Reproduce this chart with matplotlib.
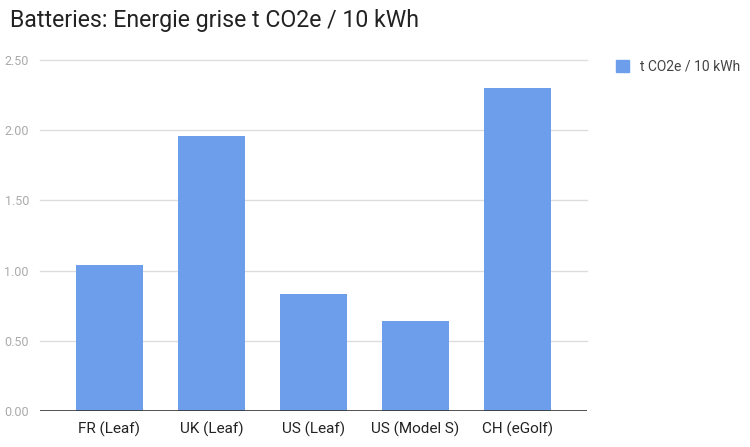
import matplotlib.pyplot as plt
from matplotlib.patches import Patch

plt.rcParams['font.family'] = ['Roboto', 'DejaVu Sans']

categories = ['FR (Leaf)', 'UK (Leaf)', 'US (Leaf)', 'US (Model S)', 'CH (eGolf)']
values = [1.04, 1.96, 0.83, 0.64, 2.30]
yticks = [0.0, 0.5, 1.0, 1.5, 2.0, 2.5]
series_name = 't CO2e / 10 kWh'

bar_color = '#6d9eeb'

fig = plt.figure(figsize=(7.5, 4.47), dpi=100)
ax = fig.add_axes([40 / 750, 1 - 411 / 447, 547 / 750, 351 / 447])

x = range(len(categories))
ax.bar(x, values, width=0.65, color=bar_color, zorder=3)

ax.set_xlim(-0.68, 4.68)
ax.set_ylim(0, 2.5)
ax.set_yticks(yticks)
ax.set_yticklabels(['%.2f' % t for t in yticks], color='#aaaaaa', fontsize=9)
ax.set_xticks(list(x))
ax.set_xticklabels(categories, color='#222222', fontsize=11)
ax.tick_params(axis='both', length=0)
ax.tick_params(axis='x', pad=8)
ax.tick_params(axis='y', pad=8)

for t in yticks[1:]:
    ax.axhline(t, color='#dddddd', linewidth=1, zorder=1, clip_on=False)
ax.axhline(0, color='#333333', linewidth=1.2, zorder=4)

for s in ax.spines.values():
    s.set_visible(False)

fig.text(10 / 750, 1 - 21 / 447, 'Batteries: Energie grise t CO2e / 10 kWh',
         fontsize=16.7, color='#222222', va='center', ha='left')

ax.legend(handles=[Patch(color=bar_color, label=series_name)],
          loc='upper left', bbox_to_anchor=(603 / 750, 1 - 47 / 447),
          bbox_transform=fig.transFigure, frameon=False, fontsize=10,
          handlelength=1.0, handleheight=1.0, labelcolor='#444444')

fig.savefig('out.png', dpi=100, facecolor='white')
